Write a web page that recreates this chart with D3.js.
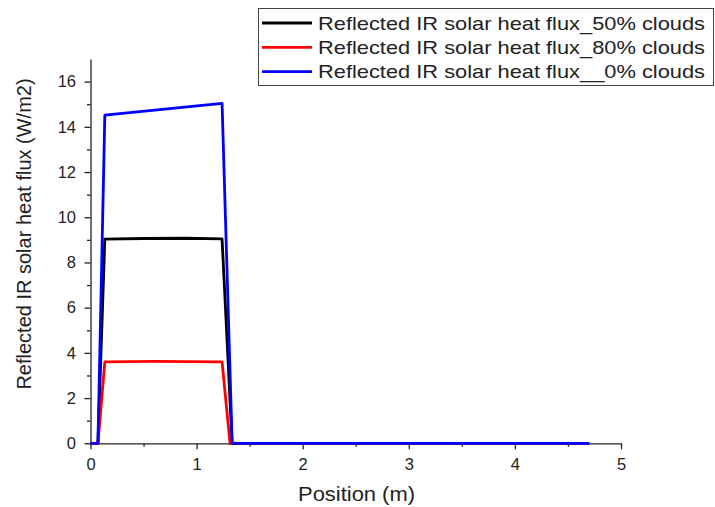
<!DOCTYPE html>
<meta charset="utf-8">
<style>
body { margin: 0; background: #fff; }
text { font-family: "Liberation Sans", Arial, sans-serif; fill: #222; }
.axis path, .axis line { stroke: #222; stroke-width: 1.3px; }
.axis text { font-size: 16.5px; fill: #222; font-family: "Liberation Sans", Arial, sans-serif; }
</style>
<body>
<script src="https://d3js.org/d3.v7.min.js"></script>
<script>
var width = 715, height = 507;

// data
var seriesNames = ["Reflected IR solar heat flux_50% clouds",
                   "Reflected IR solar heat flux_80% clouds",
                   "Reflected IR solar heat flux__0% clouds"];
var seriesColors = ["#000000", "#ff0000", "#0000ff"];

var posBlack = [0, 0.07, 0.135, 0.5, 0.9, 1.24, 1.335, 4.70];
var valBlack = [0, 0, 9.03, 9.06, 9.07, 9.04, 0, 0];

var posRed = [0, 0.07, 0.135, 0.6, 1.24, 1.315, 4.70];
var valRed = [0, 0, 3.6, 3.62, 3.6, 0, 0];

var posBlue = [0, 0.07, 0.135, 1.24, 1.335, 4.70];
var valBlue = [0, 0, 14.52, 15.04, 0, 0];

var xTicks = [0, 1, 2, 3, 4, 5];
var yTicks = [0, 2, 4, 6, 8, 10, 12, 14, 16];

var svg = d3.select("body").append("svg")
    .attr("width", width)
    .attr("height", height);

var x = d3.scaleLinear().domain([0, 5]).range([90.5, 621]);
var y = d3.scaleLinear().domain([0, 17]).range([443.3, 59]);

// minor ticks
svg.append("g")
    .attr("class", "axis")
    .attr("transform", "translate(0," + y(0) + ")")
    .call(d3.axisBottom(x).tickValues(d3.range(0.5, 5, 1)).tickSize(3.5).tickFormat(""))
    .select(".domain").remove();
svg.append("g")
    .attr("class", "axis")
    .attr("transform", "translate(" + x(0) + ",0)")
    .call(d3.axisLeft(y).tickValues(d3.range(1, 17, 2)).tickSize(3.5).tickFormat(""))
    .select(".domain").remove();

// major axes
svg.append("g")
    .attr("class", "axis")
    .attr("transform", "translate(0," + y(0) + ")")
    .call(d3.axisBottom(x).tickValues(xTicks).tickSize(6).tickSizeOuter(0).tickPadding(9).tickFormat(d3.format("d")));
svg.append("g")
    .attr("class", "axis")
    .attr("transform", "translate(" + x(0) + ",0)")
    .call(d3.axisLeft(y).tickValues(yTicks).tickSize(6).tickSizeOuter(0).tickPadding(8.5).tickFormat(d3.format("d")));

var line = d3.line()
    .x(function(d) { return x(d[0]); })
    .y(function(d) { return y(d[1]); });

var series = [
    d3.zip(posBlack, valBlack),
    d3.zip(posRed, valRed),
    d3.zip(posBlue, valBlue)
];

svg.selectAll(".series")
    .data(series)
    .enter()
    .append("path")
    .attr("class", "series")
    .attr("d", line)
    .attr("fill", "none")
    .attr("stroke", function(d, i) { return seriesColors[i]; })
    .attr("stroke-width", 2.8)
    .attr("stroke-linejoin", "round");

// axis titles
svg.append("text")
    .attr("x", 298)
    .attr("y", 500.5)
    .attr("textLength", 117)
    .attr("lengthAdjust", "spacingAndGlyphs")
    .style("font-size", "20px")
    .text("Position (m)");

svg.append("text")
    .attr("transform", "translate(31,234) rotate(-90)")
    .attr("text-anchor", "middle")
    .style("font-size", "20px")
    .text("Reflected IR solar heat flux (W/m2)");

// legend
var legend = svg.append("g");
legend.append("rect")
    .attr("x", 258.5)
    .attr("y", 8.5)
    .attr("width", 455)
    .attr("height", 77)
    .attr("fill", "#fff")
    .attr("stroke", "#444")
    .attr("stroke-width", 1);

var rows = legend.selectAll(".row")
    .data(seriesNames)
    .enter()
    .append("g")
    .attr("transform", function(d, i) { return "translate(0," + (23 + i * 24.3) + ")"; });

rows.append("line")
    .attr("x1", 262).attr("x2", 312)
    .attr("stroke", function(d, i) { return seriesColors[i]; })
    .attr("stroke-width", 2.8);

rows.append("text")
    .attr("x", 318)
    .attr("y", 6.5)
    .attr("textLength", 387)
    .attr("lengthAdjust", "spacingAndGlyphs")
    .style("font-size", "19px")
    .text(function(d) { return d; });
</script>
</body>
